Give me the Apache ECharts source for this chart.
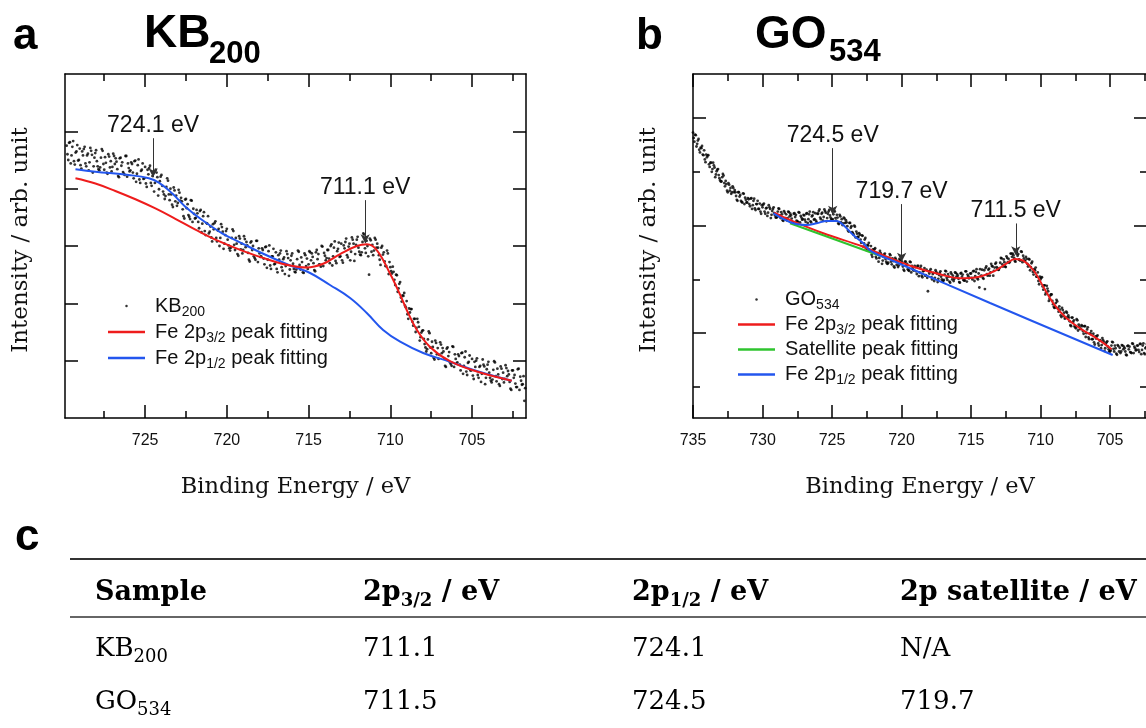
<!DOCTYPE html>
<html><head><meta charset="utf-8">
<script src="https://cdn.jsdelivr.net/npm/echarts@6/dist/echarts.min.js"></script>
<style>html,body{margin:0;padding:0;background:#fff;}#c{width:1146px;height:728px;}</style>
</head><body><div id="c"></div>
<script>
// ---------------- DATA ----------------
const energyStep = 0.1;
// Panel a (KB200): measured points, two interleaved energy grids (0.1 eV step)
const aDotStart = 729.8;
const aDotY = [
4.75,4.50,4.81,4.58,4.83,4.42,4.65,4.49,4.70,4.35,
4.58,4.73,4.39,4.61,4.46,4.66,4.28,4.54,4.67,4.39,
4.32,4.54,4.66,4.33,4.45,4.26,4.56,4.48,4.38,4.57,
4.53,4.34,4.20,4.54,4.46,4.26,4.57,4.21,4.36,4.32,
4.43,4.18,4.49,4.26,4.51,4.10,4.33,4.17,4.38,4.03,
4.25,4.40,4.05,4.27,4.10,4.28,3.88,4.13,4.24,3.95,
3.82,4.03,4.14,3.80,3.90,3.68,3.97,3.88,3.75,3.93,
3.84,3.64,3.48,3.82,3.73,3.51,3.80,3.42,3.56,3.49,
3.57,3.31,3.63,3.39,3.59,3.19,3.39,3.22,3.34,3.08,
3.29,3.43,3.08,3.30,3.14,3.33,2.95,3.19,3.30,3.01,
2.92,3.14,3.26,2.93,3.04,2.83,3.13,3.04,2.93,3.12,
3.07,2.88,2.73,3.08,3.00,2.79,3.09,2.72,2.87,2.82,
2.93,2.68,2.99,2.76,3.01,2.60,2.82,2.68,2.89,2.54,
2.76,2.92,2.57,2.80,2.65,2.86,2.48,2.75,2.87,2.60,
2.54,2.77,2.90,2.59,2.72,2.53,2.84,2.78,2.68,2.89,
2.87,2.70,2.56,2.93,2.86,2.67,3.00,2.65,2.83,2.79,
2.93,2.70,3.03,2.82,3.08,2.70,2.95,2.81,3.04,2.71,
2.96,3.13,2.80,3.04,2.90,3.11,2.74,3.02,3.16,2.90,
2.84,3.07,3.20,2.88,3.00,2.50,3.10,3.02,2.92,3.11,
3.04,2.84,2.67,3.00,2.89,2.65,2.92,2.51,2.63,2.52,
2.55,2.32,2.49,2.26,2.37,2.03,2.13,1.96,2.04,1.73,
1.84,1.90,1.61,1.73,1.57,1.67,1.35,1.49,1.53,1.29,
1.16,1.37,1.48,1.13,1.24,1.02,1.31,1.22,1.10,1.28,
1.22,1.03,0.89,1.23,1.15,0.94,1.25,0.89,1.03,0.97,
1.08,0.83,1.14,0.91,1.16,0.75,0.98,0.83,1.03,0.68,
0.89,1.04,0.70,0.91,0.77,0.93,0.59,0.85,0.98,0.70,
0.62,0.84,0.97,0.64,0.76,0.56,0.86,0.79,0.68,0.87,
0.82,0.63,0.49,0.83,0.75,0.54,0.85,0.49,0.65,0.59,
0.30];
const aDotStart2 = 729.75;
const aDotY2 = [
4.60,4.80,4.44,4.73,4.48,4.63,4.76,4.50,4.41,4.65,
4.69,4.44,4.58,4.32,4.71,4.59,4.39,4.62,4.48,4.34,
4.37,4.69,4.43,4.55,4.28,4.60,4.37,4.30,4.61,4.43,
4.47,4.22,4.53,4.40,4.29,4.24,4.57,4.44,4.30,4.46,
4.28,4.48,4.12,4.41,4.16,4.31,4.44,4.18,4.09,4.33,
4.36,4.10,4.22,3.95,4.33,4.20,3.99,4.21,4.05,3.90,
3.87,4.18,3.90,4.00,3.72,4.02,3.78,3.70,3.98,3.79,
3.78,3.52,3.81,3.66,3.54,3.47,3.79,3.65,3.48,3.63,
3.42,3.61,3.24,3.52,3.26,3.40,3.52,3.25,3.15,3.38,
3.40,3.14,3.27,3.00,3.38,3.25,3.04,3.26,3.11,2.96,
2.97,3.29,3.02,3.14,2.86,3.17,2.94,2.87,3.17,2.98,
3.01,2.76,3.06,2.93,2.82,2.76,3.09,2.96,2.81,2.96,
2.78,2.98,2.62,2.91,2.66,2.82,2.95,2.69,2.60,2.84,
2.87,2.63,2.77,2.51,2.91,2.79,2.59,2.83,2.69,2.55,
2.59,2.92,2.67,2.80,2.54,2.87,2.65,2.60,2.91,2.75,
2.81,2.58,2.89,2.77,2.68,2.64,2.99,2.88,2.75,2.93,
2.78,3.00,2.66,2.97,2.74,2.91,3.06,2.82,2.75,3.01,
3.07,2.84,2.99,2.75,3.15,3.04,2.86,3.11,2.97,2.85,
2.89,3.22,2.96,3.09,2.82,3.13,2.90,2.84,3.14,2.97,
2.97,2.76,2.97,2.85,2.73,2.65,2.87,2.72,2.56,2.64,
2.41,2.50,2.20,2.34,2.10,2.14,2.18,1.93,1.81,1.91,
1.90,1.68,1.73,1.50,1.73,1.59,1.41,1.52,1.38,1.23,
1.20,1.51,1.23,1.33,1.05,1.35,1.11,1.03,1.32,1.13,
1.16,0.91,1.21,1.08,0.97,0.91,1.24,1.11,0.95,1.11,
0.93,1.13,0.77,1.06,0.81,0.96,1.09,0.83,0.74,0.98,
1.00,0.75,0.89,0.63,1.02,0.90,0.70,0.93,0.79,0.65,
0.67,0.99,0.73,0.86,0.59,0.90,0.68,0.62,0.92,0.73,
0.76,0.51,0.83,0.70,0.60,0.54,0.86,0.72,0.58,0.73,
0.52];
const aFit32 = [[729.26,4.181],[728.04,4.090],[726.82,3.960],[725.59,3.815],[724.37,3.655],[723.15,3.475],[721.92,3.285],[720.70,3.110],[719.07,2.920],[717.43,2.760],[716.13,2.660],[715.11,2.625],[714.11,2.690],[713.07,2.860],[712.05,3.000],[711.44,3.030],[710.83,2.930],[710.02,2.520],[709.40,2.150],[708.99,1.880],[708.38,1.540],[707.57,1.240],[706.35,0.990],[704.71,0.810],[702.57,0.651]];
const aFit12 = [[729.26,4.338],[728.04,4.296],[726.00,4.239],[724.77,4.181],[724.16,4.104],[723.35,3.919],[722.54,3.686],[721.51,3.454],[720.29,3.222],[719.07,3.047],[717.84,2.873],[716.21,2.669],[714.91,2.529],[713.69,2.320],[712.46,2.093],[711.44,1.832],[710.44,1.535],[709.40,1.331],[707.99,1.134],[706.35,0.982],[704.71,0.820],[702.57,0.651]];
const aNotes = [
  {label:'724.1 eV', x:724.51, top:4.88, tip:4.20},
  {label:'711.1 eV', x:711.54, top:3.80, tip:3.05}
];

// Panel b (GO534): measured points, two interleaved energy grids (0.1 eV step)
const bDotStart = 735.0;
const bDotY = [
5.73,5.56,5.68,5.52,5.61,5.36,5.44,5.32,5.40,5.18,
5.27,5.31,5.09,5.17,5.05,5.12,4.90,5.01,5.05,4.88,
4.82,4.90,4.93,4.73,4.77,4.62,4.76,4.70,4.62,4.70,
4.66,4.55,4.46,4.62,4.57,4.44,4.60,4.40,4.48,4.43,
4.49,4.36,4.51,4.38,4.50,4.29,4.40,4.31,4.41,4.22,
4.34,4.41,4.22,4.33,4.24,4.34,4.14,4.27,4.34,4.19,
4.15,4.26,4.31,4.14,4.21,4.09,4.24,4.21,4.14,4.25,
4.22,4.13,4.05,4.23,4.20,4.08,4.25,4.06,4.15,4.12,
4.19,4.07,4.23,4.12,4.26,4.06,4.19,4.11,4.23,4.06,
4.22,4.30,4.12,4.24,4.16,4.27,4.08,4.22,4.29,4.15,
4.10,4.21,4.26,4.09,4.15,4.03,4.17,4.12,4.04,4.13,
4.10,3.99,3.89,4.05,3.99,3.86,4.00,3.78,3.85,3.79,
3.83,3.68,3.81,3.67,3.77,3.54,3.63,3.53,3.62,3.42,
3.52,3.58,3.39,3.49,3.40,3.49,3.29,3.42,3.48,3.33,
3.29,3.40,3.45,3.28,3.34,3.22,3.37,3.33,3.26,3.36,
3.34,3.24,3.16,3.33,3.29,3.17,3.33,3.13,3.21,3.17,
3.23,3.10,3.25,3.13,3.25,3.04,3.16,3.07,3.18,2.78,
3.11,3.19,3.00,3.12,3.03,3.14,2.95,3.08,3.15,3.00,
2.97,3.09,3.15,2.99,3.05,2.94,3.10,3.07,3.01,3.12,
3.10,3.01,2.94,3.12,3.09,2.98,3.15,2.96,3.06,3.03,
3.11,3.00,3.16,3.06,3.19,3.00,2.85,3.06,3.18,3.01,
2.82,3.24,3.07,3.20,3.13,3.25,3.07,3.22,3.31,3.20,
3.18,3.31,3.39,3.24,3.32,3.23,3.40,3.38,3.33,3.48,
3.48,3.40,3.33,3.51,3.47,3.36,3.52,3.32,3.39,3.34,
3.38,3.24,3.37,3.23,3.33,3.09,3.17,3.05,3.13,2.91,
3.00,3.04,2.81,2.89,2.76,2.83,2.60,2.70,2.72,2.54,
2.47,2.56,2.59,2.40,2.44,2.30,2.43,2.38,2.29,2.38,
2.33,2.22,2.13,2.29,2.24,2.11,2.26,2.05,2.12,2.08,
2.13,1.99,2.13,2.00,2.11,1.89,1.99,1.89,1.99,1.79,
1.90,1.96,1.77,1.87,1.78,1.87,1.67,1.80,1.85,1.70,
1.66,1.77,1.83,1.66,1.72,1.60,1.76,1.73,1.66,1.77,
1.75,1.66,1.59,1.77,1.75,1.64,1.81,1.63,1.72,1.69,
1.77,1.65,1.80,1.69,1.81,1.61,1.74,1.67];
const bDotStart2 = 734.95;
const bDotY2 = [
5.63,5.69,5.47,5.58,5.41,5.45,5.48,5.31,5.23,5.32,
5.30,5.14,5.17,5.00,5.17,5.08,4.95,5.04,4.94,4.84,
4.82,4.96,4.79,4.83,4.65,4.79,4.65,4.59,4.73,4.62,
4.62,4.48,4.62,4.54,4.46,4.43,4.59,4.52,4.43,4.51,
4.40,4.50,4.31,4.46,4.32,4.40,4.46,4.31,4.26,4.38,
4.39,4.26,4.32,4.18,4.38,4.31,4.20,4.31,4.23,4.15,
4.16,4.32,4.19,4.25,4.10,4.27,4.14,4.10,4.26,4.17,
4.19,4.06,4.22,4.16,4.09,4.07,4.24,4.18,4.11,4.20,
4.11,4.22,4.05,4.21,4.08,4.17,4.25,4.12,4.09,4.22,
4.27,4.15,4.22,4.09,4.30,4.24,4.14,4.26,4.19,4.12,
4.12,4.28,4.14,4.20,4.04,4.20,4.06,4.01,4.15,4.05,
4.06,3.91,4.05,3.96,3.88,3.83,3.98,3.89,3.79,3.86,
3.74,3.82,3.61,3.74,3.58,3.64,3.68,3.52,3.46,3.56,
3.56,3.42,3.48,3.33,3.53,3.46,3.35,3.46,3.38,3.30,
3.31,3.47,3.33,3.39,3.24,3.40,3.27,3.23,3.38,3.29,
3.31,3.18,3.33,3.26,3.19,3.16,3.32,3.25,3.17,3.25,
3.15,3.25,3.06,3.21,3.07,3.15,3.21,3.08,3.03,3.15,
3.16,3.04,3.10,2.97,3.17,3.11,3.01,3.12,3.05,2.97,
2.99,3.16,3.03,3.10,2.96,3.13,3.00,2.97,3.13,3.05,
3.07,2.95,3.11,3.05,2.99,2.98,3.15,3.09,3.02,3.11,
3.03,3.15,2.97,3.14,3.02,3.11,3.19,3.07,3.03,3.17,
3.21,3.10,3.18,3.07,3.29,3.24,3.16,3.29,3.23,3.18,
3.21,3.40,3.28,3.37,3.24,3.43,3.32,3.31,3.48,3.42,
3.45,3.34,3.50,3.44,3.37,3.35,3.51,3.44,3.35,3.42,
3.29,3.38,3.17,3.30,3.14,3.19,3.22,3.05,2.97,3.05,
3.03,2.87,2.89,2.72,2.88,2.78,2.64,2.72,2.60,2.49,
2.48,2.62,2.46,2.50,2.33,2.47,2.32,2.27,2.40,2.30,
2.29,2.15,2.29,2.21,2.13,2.09,2.24,2.16,2.08,2.15,
2.04,2.13,1.93,2.07,1.92,1.99,2.04,1.89,1.83,1.94,
1.94,1.81,1.86,1.72,1.91,1.84,1.72,1.83,1.75,1.66,
1.68,1.84,1.71,1.77,1.62,1.78,1.66,1.63,1.78,1.70,
1.72,1.60,1.76,1.70,1.65,1.63,1.80,1.75,1.68,1.77,
1.69,1.80,1.61,1.77,1.63,1.72,1.80];
const bFit32 = [[729.15,4.240],[728.02,4.104],[725.63,3.857],[722.75,3.608],[721.06,3.422],[719.15,3.236],[717.23,3.095],[715.79,3.020],[714.59,3.039],[713.40,3.143],[712.43,3.299],[711.83,3.379],[711.24,3.348],[710.52,3.175],[709.80,2.864],[709.08,2.556],[708.12,2.277],[707.16,2.091],[705.96,1.905],[704.88,1.701]];
const bFitSat = [[728.02,4.043],[721.55,3.440]];
const bFit12 = [[729.22,4.229],[727.78,4.043],[726.82,4.011],[726.10,4.043],[725.38,4.086],[724.66,4.086],[724.19,4.011],[723.47,3.825],[722.75,3.671],[722.14,3.515],[720.50,3.333],[713.63,2.561],[704.81,1.595]];
const bNotes = [
  {label:'724.5 eV', x:724.95, top:5.44, tip:4.20},
  {label:'719.7 eV', x:719.99, top:4.40, tip:3.33},
  {label:'711.5 eV', x:711.78, top:4.04, tip:3.45}
];

// axes ticks
const aXMajor = [705,710,715,720,725];
const aXMinor = [702.5,707.5,712.5,717.5,722.5,727.5];
const aYMajor = [1,2,3,4,5];
const bXMajor = [705,710,715,720,725,730,735];
const bXMinor = [702.5,707.5,712.5,717.5,722.5,727.5,732.5];
const bYMajor = [2,4,6];
const bYMinor = [1,3,5];

// legend texts
const legendText = {
  aDots:'KB{s|200}', aP32:'Fe 2p{s|3/2} peak fitting', aP12:'Fe 2p{s|1/2} peak fitting',
  bDots:'GO{s|534}', bP32:'Fe 2p{s|3/2} peak fitting', bSat:'Satellite peak fitting', bP12:'Fe 2p{s|1/2} peak fitting'
};

// table
const tableHeader = ['Sample','2p{s|3/2} / eV','2p{s|1/2} / eV','2p satellite / eV'];
const tableRows = [
  ['KB{s|200}','711.1','724.1','N/A'],
  ['GO{s|534}','711.5','724.5','719.7']
];

// ---------------- CHART ----------------
const LS = "'Liberation Sans', Arial, sans-serif";
const SERIF = "'DejaVu Serif', 'Liberation Serif', serif";
const frame = {color:'#000', width:1.5};
const RED = '#ee1c1c', BLUE = '#2356ee', GREEN = '#2fc42f';

function dots(start, ys){ return ys.map((v,i)=>[+(start - i*energyStep).toFixed(2), v]); }

function xAxes(grid, min, max, major, minor){
  const base = {type:'value', gridIndex:grid, min, max, inverse:true, splitLine:{show:false}, nameMoveOverlap:false};
  return [
    Object.assign({}, base, {position:'bottom', axisLine:{show:true,onZero:false,lineStyle:frame},
      axisTick:{show:true,inside:true,length:13,lineStyle:frame,customValues:major},
      axisLabel:{show:true,customValues:major,margin:15,fontSize:16,fontFamily:LS,color:'#111'},
      name:'Binding Energy / eV', nameLocation:'middle', nameGap:58,
      nameTextStyle:{fontFamily:SERIF,fontSize:22.5,color:'#111'}}),
    Object.assign({}, base, {position:'bottom', axisLine:{show:false,onZero:false},
      axisTick:{show:true,inside:true,length:7,lineStyle:frame,customValues:minor}, axisLabel:{show:false}}),
    Object.assign({}, base, {position:'top', axisLine:{show:true,onZero:false,lineStyle:frame},
      axisTick:{show:true,inside:true,length:13,lineStyle:frame,customValues:major}, axisLabel:{show:false}}),
    Object.assign({}, base, {position:'top', axisLine:{show:false,onZero:false},
      axisTick:{show:true,inside:true,length:7,lineStyle:frame,customValues:minor}, axisLabel:{show:false}})
  ];
}
function yAxes(grid, min, max, major, minor){
  const base = {type:'value', gridIndex:grid, min, max, splitLine:{show:false}, axisLabel:{show:false}, nameMoveOverlap:false};
  const out = [
    Object.assign({}, base, {position:'left', axisLine:{show:true,onZero:false,lineStyle:frame},
      axisTick:{show:true,inside:true,length:13,lineStyle:frame,customValues:major},
      name:'Intensity / arb. unit', nameLocation:'middle', nameGap:32, nameRotate:90,
      nameTextStyle:{fontFamily:SERIF,fontSize:23,color:'#111', padding:[0,0,0,12]}}),
    Object.assign({}, base, {position:'right', axisLine:{show:true,onZero:false,lineStyle:frame},
      axisTick:{show:true,inside:true,length:13,lineStyle:frame,customValues:major}})
  ];
  if (minor) {
    out.push(Object.assign({}, base, {position:'left', axisLine:{show:false,onZero:false},
      axisTick:{show:true,inside:true,length:7,lineStyle:frame,customValues:minor}}));
    out.push(Object.assign({}, base, {position:'right', axisLine:{show:false,onZero:false},
      axisTick:{show:true,inside:true,length:7,lineStyle:frame,customValues:minor}}));
  }
  return out;
}

function notes(list){
  return {
    silent:true, symbol:['none','arrow'], symbolSize:[7,9], animation:false,
    lineStyle:{color:'#333', width:1, type:'solid'},
    label:{show:true, position:'start', distance:1, formatter:'{b}', fontFamily:LS, fontSize:23, color:'#111'},
    data: list.map(n => [{coord:[n.x, n.top], name:n.label}, {coord:[n.x, n.tip]}])
  };
}

const legendBase = {
  orient:'vertical', itemWidth:37, itemHeight:2.5, itemGap:0, selectedMode:false,
  formatter: name => legendText[name],
  itemStyle:{borderWidth:0}
};
function legendStyle(lh){
  return {fontFamily:LS, fontSize:20, color:'#111', lineHeight:lh, padding:[0,0,0,5],
    rich:{s:{fontFamily:LS, fontSize:14, lineHeight:14, verticalAlign:'bottom', color:'#111'}}};
}

const xA = xAxes(0, 701.7, 729.9, aXMajor, aXMinor).concat(xAxes(1, 702.34, 735, bXMajor, bXMinor));
const yA = yAxes(0, 0, 6, aYMajor, null).concat(yAxes(1, 0.424, 6.818, bYMajor, bYMinor));

// graphics: panel titles and table
const graphics = [];
function gtext(txt, x, y, size, bold, family, extra){
  graphics.push({type:'text', x, y, silent:true, style:Object.assign({text:txt, fontSize:size, fontWeight:bold?'bold':'normal', fontFamily:family, fill:'#000', verticalAlign:'middle', align:'left'}, extra||{})});
}
gtext('a', 13, 36.6, 44, true, LS);
gtext('b', 636, 36.6, 44, true, LS);
gtext('c', 15, 538, 44, true, LS);
gtext('KB', 144, 33.9, 46, true, LS);
gtext('200', 209, 54, 31, true, LS);
gtext('GO', 755, 34.9, 46, true, LS);
gtext('534', 829, 52.2, 31, true, LS);

const colX = [95, 363, 632, 900];
const headY = 593, rowY = [649, 702];
tableHeader.forEach((t,i)=>gtext(t, colX[i], headY, 27, true, SERIF,
  {lineHeight:34, rich:{s:{fontSize:18, lineHeight:18, verticalAlign:'bottom', fontWeight:'bold', fontFamily:SERIF, fill:'#000'}}}));
tableRows.forEach((row,r)=>row.forEach((t,i)=>gtext(t, colX[i], rowY[r], 26, false, SERIF,
  {lineHeight:34, rich:{s:{fontSize:18, lineHeight:18, verticalAlign:'bottom', fontFamily:SERIF, fill:'#000'}}})));
graphics.push({type:'line', silent:true, shape:{x1:70,y1:559,x2:1146,y2:559}, style:{stroke:'#333', lineWidth:2.2}});
graphics.push({type:'line', silent:true, shape:{x1:70,y1:617,x2:1146,y2:617}, style:{stroke:'#333', lineWidth:1.6}});

const lineCommon = {type:'line', showSymbol:false, symbol:'none', smooth:0.4, silent:true, animation:false};

const option = {
  animation:false,
  backgroundColor:'#fff',
  textStyle:{fontFamily:LS},
  grid:[
    {left:65, top:74, width:461, height:344, outerBoundsMode:'none', containLabel:false},
    {left:693, top:74, width:454, height:344, outerBoundsMode:'none', containLabel:false}
  ],
  xAxis:xA,
  yAxis:yA,
  legend:[
    Object.assign({}, legendBase, {left:103, top:288, textStyle:legendStyle(26),
      data:[{name:'aDots',icon:'circle'},{name:'aP32',icon:'rect'},{name:'aP12',icon:'rect'}]}),
    Object.assign({}, legendBase, {left:733, top:282, textStyle:legendStyle(25),
      data:[{name:'bDots',icon:'circle'},{name:'bP32',icon:'rect'},{name:'bSat',icon:'rect'},{name:'bP12',icon:'rect'}]})
  ],
  series:[
    {name:'aDots', type:'scatter', xAxisIndex:0, yAxisIndex:0, data:dots(aDotStart, aDotY).concat(dots(aDotStart2, aDotY2)), symbolSize:2.8,
      itemStyle:{color:'#000'}, silent:true, markLine:notes(aNotes)},
    Object.assign({}, lineCommon, {name:'aP12', xAxisIndex:0, yAxisIndex:0, data:aFit12, lineStyle:{color:BLUE,width:2}, itemStyle:{color:BLUE}}),
    Object.assign({}, lineCommon, {name:'aP32', xAxisIndex:0, yAxisIndex:0, data:aFit32, lineStyle:{color:RED,width:2}, itemStyle:{color:RED}}),
    {name:'bDots', type:'scatter', xAxisIndex:4, yAxisIndex:2, data:dots(bDotStart, bDotY).concat(dots(bDotStart2, bDotY2)), symbolSize:2.8,
      itemStyle:{color:'#000'}, silent:true, markLine:notes(bNotes)},
    Object.assign({}, lineCommon, {name:'bP32', xAxisIndex:4, yAxisIndex:2, data:bFit32, lineStyle:{color:RED,width:2}, itemStyle:{color:RED}}),
    Object.assign({}, lineCommon, {name:'bSat', xAxisIndex:4, yAxisIndex:2, data:bFitSat, smooth:false, lineStyle:{color:GREEN,width:2}, itemStyle:{color:GREEN}}),
    Object.assign({}, lineCommon, {name:'bP12', xAxisIndex:4, yAxisIndex:2, data:bFit12, lineStyle:{color:BLUE,width:2}, itemStyle:{color:BLUE}})
  ],
  graphic:graphics
};
const chart = echarts.init(document.getElementById('c'), null, {renderer:'canvas'});
chart.setOption(option);
</script></body></html>
